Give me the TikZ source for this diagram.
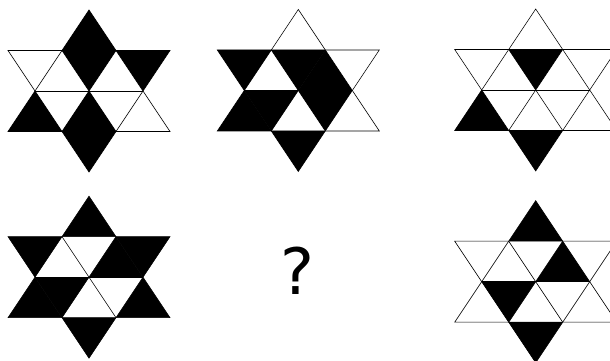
\documentclass[tikz,border=0pt]{standalone}
\usepackage{fontspec}
\newfontfamily\qfont{DejaVu Sans}
\tikzset{
  cell/.style={fill=black},
  gridline/.style={draw=black,line width=0.6pt,line join=miter},
  starunit/.style={x=54pt,y=40.5pt}
}
% lattice points of one star, in units of the small triangle
\newcommand{\starpoints}{%
  \coordinate (T) at (0,2); \coordinate (B) at (0,-2);
  \foreach \i/\x in {1/-1.5,2/-0.5,3/0.5,4/1.5}{
    \coordinate (U\i) at (\x,1); \coordinate (L\i) at (\x,-1);}
  \coordinate (M1) at (-1,0); \coordinate (M0) at (0,0); \coordinate (M2) at (1,0);}
\newcommand{\stargrid}{%
  \draw[gridline] (T) -- (L1) -- (L4) -- cycle;
  \draw[gridline] (B) -- (U1) -- (U4) -- cycle;
  \draw[gridline] (M1) -- (M2);
  \draw[gridline] (U2) -- (L3);
  \draw[gridline] (U3) -- (L2);}

\begin{document}
\begin{tikzpicture}[x=1pt,y=1pt]
  \fill[white] (0,0) rectangle (610,361);
  \clip (0,0) rectangle (610,361);
  % top row
  \begin{scope}[shift={(89,270)},starunit]
    \starpoints
    \foreach \p/\q/\r in {T/U2/U3,U2/U3/M0,U3/U4/M2,M1/L1/L2,M0/L2/L3,L2/L3/B}
      \fill[cell] (\p) -- (\q) -- (\r) -- cycle;
    \stargrid
  \end{scope}
  \begin{scope}[shift={(298.3,270.5)},starunit]
    \starpoints
    \foreach \p/\q/\r in {U1/U2/M1,U2/U3/M0,M0/M2/U3,M1/L1/L2,M1/M0/L2,M0/M2/L3,L2/L3/B}
      \fill[cell] (\p) -- (\q) -- (\r) -- cycle;
    \stargrid
  \end{scope}
  \begin{scope}[shift={(535.7,271)},starunit]
    \starpoints
    \foreach \p/\q/\r in {U2/U3/M0,M1/L1/L2,L2/L3/B}
      \fill[cell] (\p) -- (\q) -- (\r) -- cycle;
    \stargrid
  \end{scope}
  % bottom row
  \begin{scope}[shift={(89,83.8)},starunit]
    \starpoints
    \foreach \p/\q/\r in {T/U2/U3,U1/U2/M1,M0/M2/U3,U3/U4/M2,M1/L1/L2,M1/M0/L2,M2/L3/L4,L2/L3/B}
      \fill[cell] (\p) -- (\q) -- (\r) -- cycle;
    \stargrid
  \end{scope}
  \node[inner sep=0pt,font=\qfont\fontsize{64}{64}\selectfont] (ask) at (297,90) {?};
  \begin{scope}[shift={(535.7,79.3)},starunit]
    \starpoints
    \foreach \p/\q/\r in {T/U2/U3,M0/M2/U3,M1/M0/L2,L2/L3/B}
      \fill[cell] (\p) -- (\q) -- (\r) -- cycle;
    \stargrid
  \end{scope}
\end{tikzpicture}
\end{document}
